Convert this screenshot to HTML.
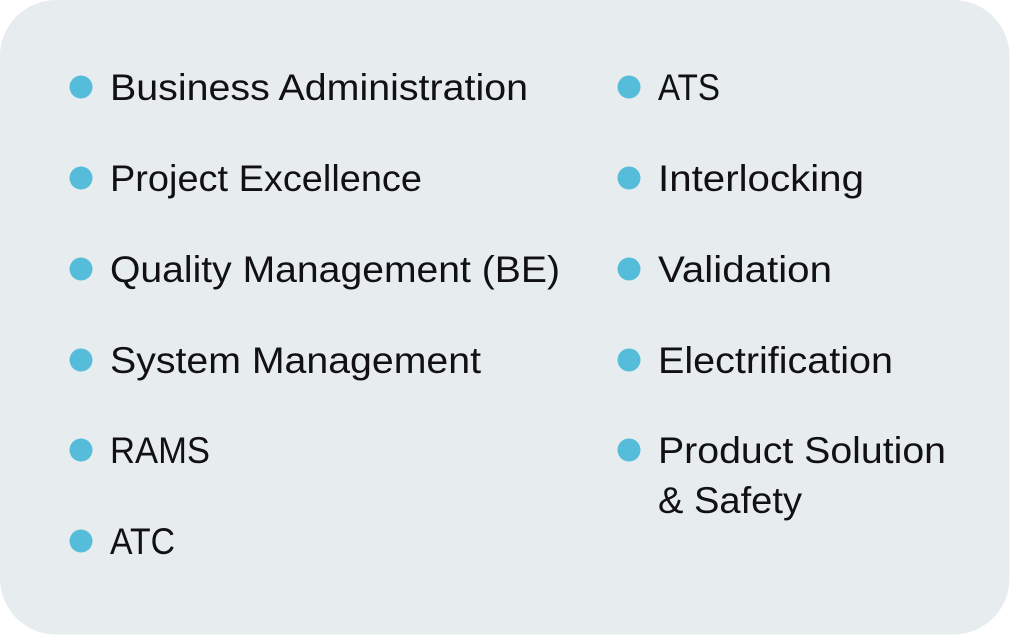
<!DOCTYPE html>
<html lang="en">
<head>
<meta charset="utf-8">
<title>Disciplines list</title>
<style>
html,body{margin:0;padding:0;background:#fff;width:1010px;height:635px;overflow:hidden}
svg{display:block}
text{font-family:"Liberation Sans",sans-serif;font-size:37px;fill:#111}
</style>
</head>
<body>
<svg width="1010" height="635" viewBox="0 0 1010 635" xmlns="http://www.w3.org/2000/svg">
<rect x="0" y="0" width="1009.5" height="634.5" rx="56" ry="56" fill="#e7ecef"/>
<g>
<circle cx="81" cy="87" r="11.5" fill="#55bcd9"/>
<text x="110" y="100" textLength="418" lengthAdjust="spacingAndGlyphs">Business Administration</text>
<circle cx="81" cy="178" r="11.5" fill="#55bcd9"/>
<text x="110" y="191" textLength="312" lengthAdjust="spacingAndGlyphs">Project Excellence</text>
<circle cx="81" cy="269" r="11.5" fill="#55bcd9"/>
<text x="110" y="282" textLength="450" lengthAdjust="spacingAndGlyphs">Quality Management (BE)</text>
<circle cx="81" cy="360" r="11.5" fill="#55bcd9"/>
<text x="110" y="373" textLength="371" lengthAdjust="spacingAndGlyphs">System Management</text>
<circle cx="81" cy="450" r="11.5" fill="#55bcd9"/>
<text x="110" y="463" textLength="100" lengthAdjust="spacingAndGlyphs">RAMS</text>
<circle cx="81" cy="541" r="11.5" fill="#55bcd9"/>
<text x="110" y="554" textLength="65" lengthAdjust="spacingAndGlyphs">ATC</text>
</g>
<g>
<circle cx="629" cy="87" r="11.5" fill="#55bcd9"/>
<text x="658" y="100" textLength="62" lengthAdjust="spacingAndGlyphs">ATS</text>
<circle cx="629" cy="178" r="11.5" fill="#55bcd9"/>
<text x="658" y="191" textLength="206" lengthAdjust="spacingAndGlyphs">Interlocking</text>
<circle cx="629" cy="269" r="11.5" fill="#55bcd9"/>
<text x="658" y="282" textLength="174" lengthAdjust="spacingAndGlyphs">Validation</text>
<circle cx="629" cy="360" r="11.5" fill="#55bcd9"/>
<text x="658" y="373" textLength="235" lengthAdjust="spacingAndGlyphs">Electrification</text>
<circle cx="629" cy="450" r="11.5" fill="#55bcd9"/>
<text x="658" y="463" textLength="288" lengthAdjust="spacingAndGlyphs">Product Solution</text>
<text x="658" y="513" textLength="144" lengthAdjust="spacingAndGlyphs">&amp; Safety</text>
</g>
</svg>
</body>
</html>
